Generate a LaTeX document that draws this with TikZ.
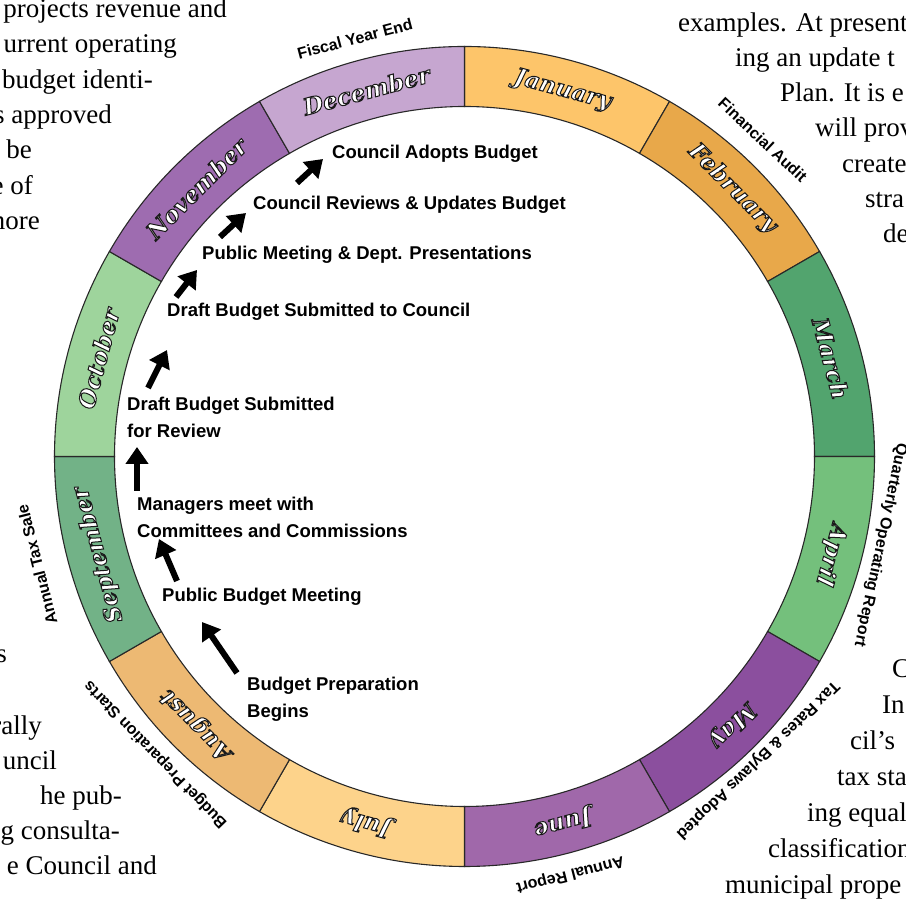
\documentclass[tikz,border=0pt]{standalone}
\usepackage{fontspec}
\setmainfont{Liberation Serif}
\newfontfamily\stepfont{Liberation Sans}
\newfontfamily\monthfont{DejaVu Serif}
\usetikzlibrary{arrows.meta}

% ring colours, one per month
\definecolor{janfill}{RGB}{253,197,106}
\definecolor{febfill}{RGB}{232,168,74}
\definecolor{marfill}{RGB}{82,164,110}
\definecolor{aprfill}{RGB}{116,192,124}
\definecolor{mayfill}{RGB}{139,79,158}
\definecolor{junfill}{RGB}{160,104,170}
\definecolor{julfill}{RGB}{253,211,139}
\definecolor{augfill}{RGB}{237,185,115}
\definecolor{sepfill}{RGB}{114,178,135}
\definecolor{octfill}{RGB}{158,212,156}
\definecolor{novfill}{RGB}{158,108,176}
\definecolor{decfill}{RGB}{198,166,208}
\definecolor{ringedge}{RGB}{40,40,40}

% white letters with a dark rim
\newcommand\outlined[1]{\special{pdf:literal direct 0.1 0.1 0.1 RG 1 w 2 Tr}#1\special{pdf:literal direct 0 Tr}}

\tikzset{
  segment/.style={draw=ringedge, line width=1.1pt},
  monthname/.style={font=\monthfont\bfseries\itshape\fontsize{23}{23}\selectfont, text=white, inner sep=0pt},
  cycletag/.style={font=\stepfont\bfseries\fontsize{16}{16}\selectfont, inner sep=0pt},
  stepnote/.style={font=\stepfont\bfseries\fontsize{18.5}{27}\selectfont, align=left, anchor=north west, inner sep=0pt},
  steparrow/.style={line width=6pt, -{Triangle[length=17pt,width=22pt]}},
  bodytext/.style={font=\fontsize{27}{35}\selectfont, inner sep=0pt},
}

\begin{document}
\begin{tikzpicture}[x=1pt, y=1pt]
\useasboundingbox (0,0) rectangle (906,899);
\clip (0,0) rectangle (906,899);

% page text around the wheel
\foreach \x/\y/\t [count=\i] in {227/881/projects revenue and, 177/846/urrent operating, 153/810/budget identi-, 112/775/s approved, 32/740/be, 33/704/e of, 40/669/more, 7/236/s, 42/164/rally, 57/129/uncil, 122/94/he pub-, 120/59/g consulta-, 157/24/e Council and}
  \node[bodytext, anchor=base east] (L\i) at (\x,\y) {\t};
\foreach \x/\y/\t [count=\i] in {678/867/examples. At present, 735/832/ing an update t, 780/797/Plan. It is e, 815/762/will prov, 842/726/create, 865/691/stra, 883/656/de, 892/221/C, 882/185/In, 850/149/cil’s, 837/113/tax sta, 807/77/ing equal, 768/41/classification, 725/5/municipal prope}
  \node[bodytext, anchor=base west] (R\i) at (\x,\y) {\t};

\begin{scope}[shift={(464.5,442.5)}]
% the twelve months, January starting at the top
\foreach \name/\col [count=\i] in {January/janfill, February/febfill, March/marfill, April/aprfill, May/mayfill, June/junfill, July/julfill, August/augfill, September/sepfill, October/octfill, November/novfill, December/decfill} {
  \pgfmathsetmacro\sa{90-30*(\i-1)}
  \pgfmathsetmacro\ea{\sa-30}
  \pgfmathsetmacro\ma{\sa-15}
  \filldraw[segment, fill=\col] (\sa:410) arc[start angle=\sa, end angle=\ea, radius=410]
    -- (\ea:350) arc[start angle=\ea, end angle=\sa, radius=350] -- cycle;
  \node[monthname, rotate=\ma-90] (m\i) at (\ma:379) {\outlined{\name}};
}
% events outside the ring
\foreach \ang/\rad/\txt [count=\i] in {104.7/432/Fiscal Year End, 46.7/435/Financial Audit, -12/425/Quarterly Operating Report, -46/422/Tax Rates \& Bylaws Adopted, -75.8/431/Annual Report, 194.2/441/Annual Tax Sale, 224/429/Budget Preparation Starts}
  \node[cycletag, rotate=\ang-90] (t\i) at (\ang:\rad) {\txt};
\end{scope}

% budget steps inside the ring
\node[stepnote] (begins) at (247,222) {Budget Preparation\\Begins};
\node[stepnote] (pubmeet) at (162,311) {Public Budget Meeting};
\node[stepnote] (managers) at (137,402) {Managers meet with\\Committees and Commissions};
\node[stepnote] (review) at (127,502) {Draft Budget Submitted\\for Review};
\node[stepnote] (tocouncil) at (167,596) {Draft Budget Submitted to Council};
\node[stepnote] (presents) at (202,653) {Public Meeting \& Dept. Presentations};
\node[stepnote] (updates) at (253,703) {Council Reviews \& Updates Budget};
\node[stepnote] (adopts) at (332,754) {Council Adopts Budget};

\coordinate (a1) at (237,226); \coordinate (b1) at (202,277);
\coordinate (a2) at (177,318); \coordinate (b2) at (159,360);
\coordinate (a3) at (137,408); \coordinate (b3) at (137,452);
\coordinate (a4) at (148,511); \coordinate (b4) at (167,549);
\coordinate (a5) at (176,602); \coordinate (b5) at (197,629);
\coordinate (a6) at (220,662); \coordinate (b6) at (246,686);
\coordinate (a7) at (297,716); \coordinate (b7) at (323,740);
\foreach \i in {1,...,7}
  \draw[steparrow] (a\i) -- (b\i);
\end{tikzpicture}
\end{document}
